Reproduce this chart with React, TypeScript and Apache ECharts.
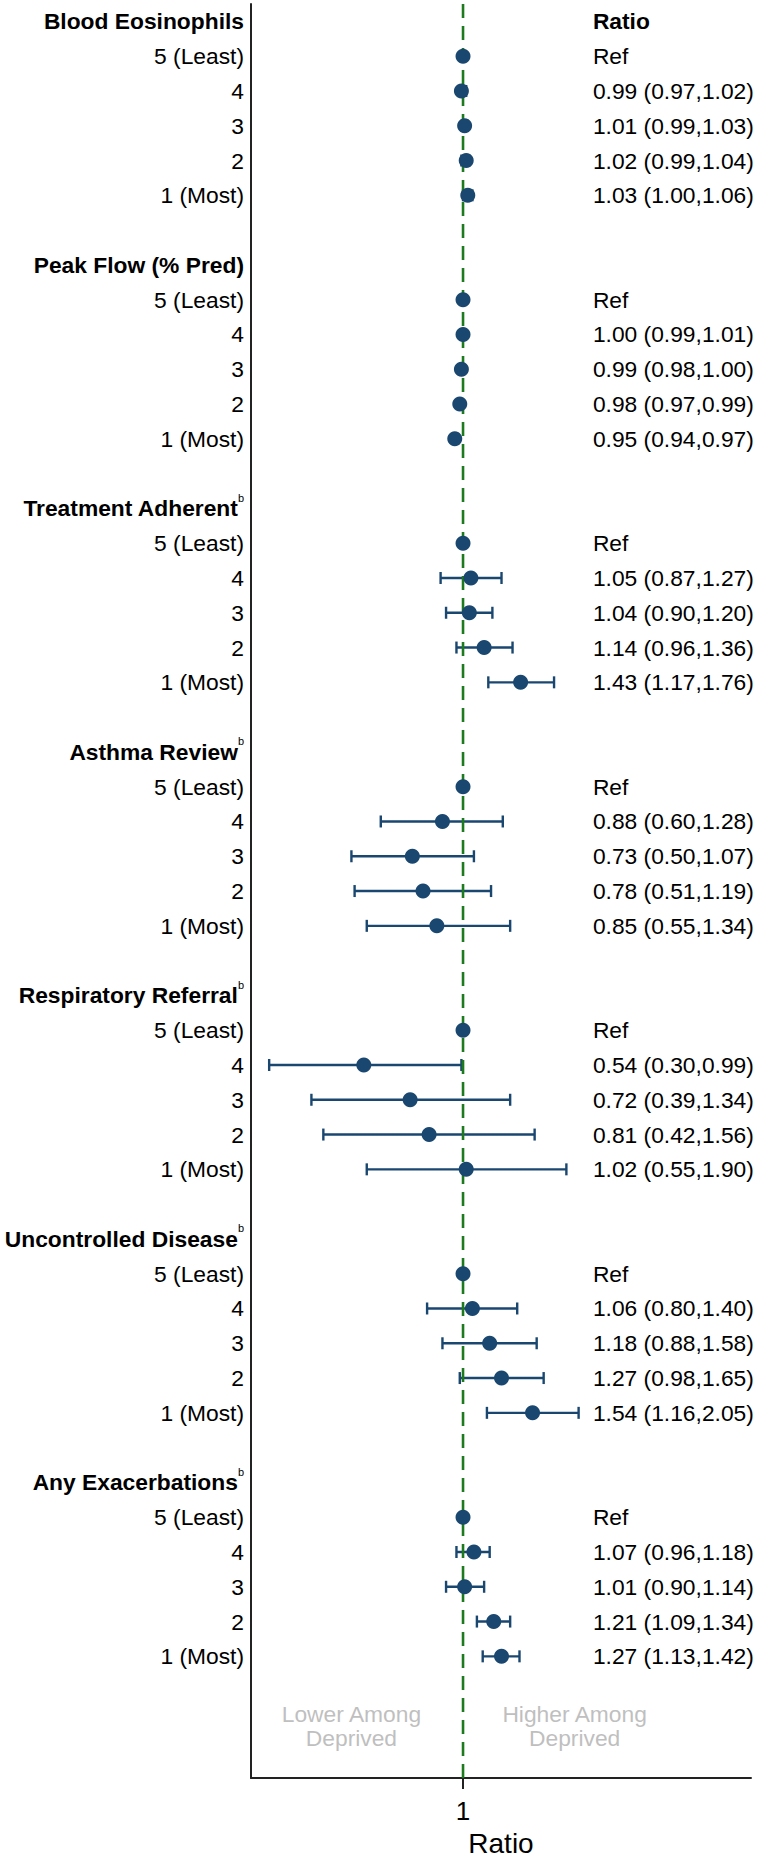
import React, { useEffect, useRef } from "react";
import * as echarts from "echarts";

// ---------- data ----------
const groups = [
  "Blood Eosinophils",
  "Peak Flow (% Pred)",
  "Treatment Adherent",
  "Asthma Review",
  "Respiratory Referral",
  "Uncontrolled Disease",
  "Any Exacerbations",
];
const groupSuperscripts = ["", "", "b", "b", "b", "b", "b"];
const quintiles = ["5 (Least)", "4", "3", "2", "1 (Most)"];

// quintile 5 (Least) is the reference (null)
const estimates = [
  [null, 0.99, 1.01, 1.02, 1.03],
  [null, 1.0, 0.99, 0.98, 0.95],
  [null, 1.05, 1.04, 1.14, 1.43],
  [null, 0.88, 0.73, 0.78, 0.85],
  [null, 0.54, 0.72, 0.81, 1.02],
  [null, 1.06, 1.18, 1.27, 1.54],
  [null, 1.07, 1.01, 1.21, 1.27],
];
const lowerCI = [
  [null, 0.97, 0.99, 0.99, 1.0],
  [null, 0.99, 0.98, 0.97, 0.94],
  [null, 0.87, 0.9, 0.96, 1.17],
  [null, 0.6, 0.5, 0.51, 0.55],
  [null, 0.3, 0.39, 0.42, 0.55],
  [null, 0.8, 0.88, 0.98, 1.16],
  [null, 0.96, 0.9, 1.09, 1.13],
];
const upperCI = [
  [null, 1.02, 1.03, 1.04, 1.06],
  [null, 1.01, 1.0, 0.99, 0.97],
  [null, 1.27, 1.2, 1.36, 1.76],
  [null, 1.28, 1.07, 1.19, 1.34],
  [null, 0.99, 1.34, 1.56, 1.9],
  [null, 1.4, 1.58, 1.65, 2.05],
  [null, 1.18, 1.14, 1.34, 1.42],
];
const REF_VALUE = 1;
const columnHeader = "Ratio";
const refLabel = "Ref";
const xTickValues = [1];
const xAxisTitle = "Ratio";
const annotations = [
  { x: 0.5, text: "Lower Among\nDeprived" },
  { x: 2, text: "Higher Among\nDeprived" },
];

// ---------- layout constants ----------
const FONT = "'Liberation Sans', Arial, Helvetica, sans-serif";
const FS = 22.8;
const NAVY = "#1a476f";
const GREEN = "#1e7a1e";
const TEXT_COL_X = 2.24; // data-x where the ratio text column starts
const X_MIN = 0.268;
const X_MAX = 5.98;

type Row = {
  kind: "header" | "item" | "blank" | "note";
  label: string;
  sup?: string;
  est?: number | null;
  lo?: number | null;
  hi?: number | null;
  text?: string;
};

const fmt = (v: number) => v.toFixed(2);

const rows: Row[] = [];
groups.forEach((g, gi) => {
  rows.push({ kind: "header", label: g, sup: groupSuperscripts[gi], text: gi === 0 ? columnHeader : "" });
  quintiles.forEach((q, qi) => {
    const e = estimates[gi][qi];
    const lo = lowerCI[gi][qi];
    const hi = upperCI[gi][qi];
    rows.push({
      kind: "item",
      label: q,
      est: e,
      lo,
      hi,
      text: e == null ? refLabel : `${fmt(e)} (${fmt(lo as number)},${fmt(hi as number)})`,
    });
  });
  rows.push({ kind: "blank", label: "" });
});
const NOTE_ROW = rows.length;
rows.push({ kind: "note", label: "" });
rows.push({ kind: "blank", label: "" });

function buildOption() {
  const pointData = rows
    .map((r, i) => (r.kind === "item" ? [r.est == null ? REF_VALUE : r.est, i] : null))
    .filter((d) => d !== null);
  const ciData = rows
    .map((r, i) => (r.kind === "item" && r.est != null ? [r.lo, r.hi, i] : null))
    .filter((d) => d !== null);
  const textItems = rows
    .map((r, i) => (r.text ? { row: i, text: r.text, bold: r.kind === "header" } : null))
    .filter((d) => d !== null) as { row: number; text: string; bold: boolean }[];

  const series: any[] = [
    {
      type: "custom",
      name: "ci",
      z: 2,
      data: ciData,
      encode: { x: [0, 1], y: 2 },
      renderItem: (_params: any, api: any) => {
        const y = api.value(2);
        const p1 = api.coord([api.value(0), y]);
        const p2 = api.coord([api.value(1), y]);
        const h = 6;
        const style = { stroke: NAVY, lineWidth: 2.4 };
        return {
          type: "group",
          children: [
            { type: "line", shape: { x1: p1[0], y1: p1[1], x2: p2[0], y2: p2[1] }, style },
            { type: "line", shape: { x1: p1[0], y1: p1[1] - h, x2: p1[0], y2: p1[1] + h }, style },
            { type: "line", shape: { x1: p2[0], y1: p2[1] - h, x2: p2[0], y2: p2[1] + h }, style },
          ],
        };
      },
    },
    {
      type: "custom",
      name: "refLine",
      z: 5,
      data: [[REF_VALUE, 0]],
      encode: { x: 0, y: 1 },
      renderItem: (params: any, api: any) => {
        const cs = params.coordSys;
        const p = api.coord([api.value(0), api.value(1)]);
        return {
          type: "line",
          shape: { x1: p[0], y1: cs.y, x2: p[0], y2: cs.y + cs.height },
          style: { stroke: GREEN, lineWidth: 2.6, lineDash: [14, 8] },
        };
      },
    },
    {
      type: "scatter",
      name: "est",
      z: 10,
      symbol: "circle",
      symbolSize: 15,
      itemStyle: { color: NAVY, opacity: 1 },
      data: pointData,
    },
    {
      type: "custom",
      name: "ratioText",
      z: 10,
      data: textItems.map((t) => [TEXT_COL_X, t.row]),
      encode: { x: 0, y: 1 },
      renderItem: (params: any, api: any) => {
        const p = api.coord([api.value(0), api.value(1)]);
        const t = textItems[params.dataIndex];
        return {
          type: "text",
          x: p[0],
          y: p[1],
          style: {
            text: t.text,
            fill: "#000",
            fontSize: FS,
            fontFamily: FONT,
            fontWeight: t.bold ? "bold" : "normal",
            align: "left",
            verticalAlign: "middle",
          },
        };
      },
    },
    {
      type: "custom",
      name: "notes",
      z: 10,
      data: annotations.map((a) => [a.x, NOTE_ROW]),
      encode: { x: 0, y: 1 },
      renderItem: (params: any, api: any) => {
        const p = api.coord([api.value(0), api.value(1)]);
        return {
          type: "text",
          x: p[0],
          y: p[1],
          style: {
            text: annotations[params.dataIndex].text,
            fill: "#bfbfbf",
            fontSize: FS,
            fontFamily: FONT,
            lineHeight: 23.5,
            align: "center",
            verticalAlign: "middle",
          },
        };
      },
    },
  ];

  return {
    animation: false,
    backgroundColor: "#fff",
    grid: { left: 251, right: 7, top: 4, bottom: 73, containLabel: false },
    xAxis: {
      type: "log",
      logBase: 10,
      min: X_MIN,
      max: X_MAX,
      axisLine: { show: true, onZero: false, lineStyle: { color: "#222", width: 2 } },
      axisTick: { show: true, customValues: xTickValues, length: 11, lineStyle: { color: "#222", width: 2 } },
      axisLabel: { customValues: xTickValues, fontSize: 26, margin: 20, color: "#000", fontFamily: FONT },
      splitLine: { show: false },
      name: xAxisTitle,
      nameLocation: "middle",
      nameGap: 47,
      nameTextStyle: { fontSize: 28, color: "#000", fontFamily: FONT },
    },
    yAxis: {
      type: "category",
      inverse: true,
      data: rows.map((_, i) => "r" + i),
      axisLine: { show: true, onZero: false, lineStyle: { color: "#222", width: 2 } },
      axisTick: { show: false },
      splitLine: { show: false },
      axisLabel: {
        interval: 0,
        margin: 7,
        fontFamily: FONT,
        formatter: (v: string) => {
          const idx = Number(String(v).slice(1));
          const r = rows[idx];
          if (!r || !r.label) return "";
          if (r.kind === "header") {
            return r.sup ? `{h|${r.label}}{s|${r.sup}}` : `{h|${r.label}}`;
          }
          return `{n|${r.label}}`;
        },
        rich: {
          h: { fontWeight: "bold", fontSize: FS, fontFamily: FONT, color: "#000", lineHeight: 32 },
          s: { fontSize: 11, fontFamily: FONT, color: "#000", verticalAlign: "top", lineHeight: 11 },
          n: { fontSize: FS, fontFamily: FONT, color: "#000", lineHeight: 26 },
        },
      },
    },
    series,
  };
}

export default function App() {
  const ref = useRef<HTMLDivElement>(null);
  useEffect(() => {
    if (!ref.current) return;
    const chart = echarts.init(ref.current, null, { renderer: "svg" });
    chart.setOption(buildOption());
    return () => chart.dispose();
  }, []);

  return (
    <div
      ref={ref}
      style={{ position: "absolute", left: 0, top: 0, width: 758, height: 1862, background: "#fff" }}
    />
  );
}
